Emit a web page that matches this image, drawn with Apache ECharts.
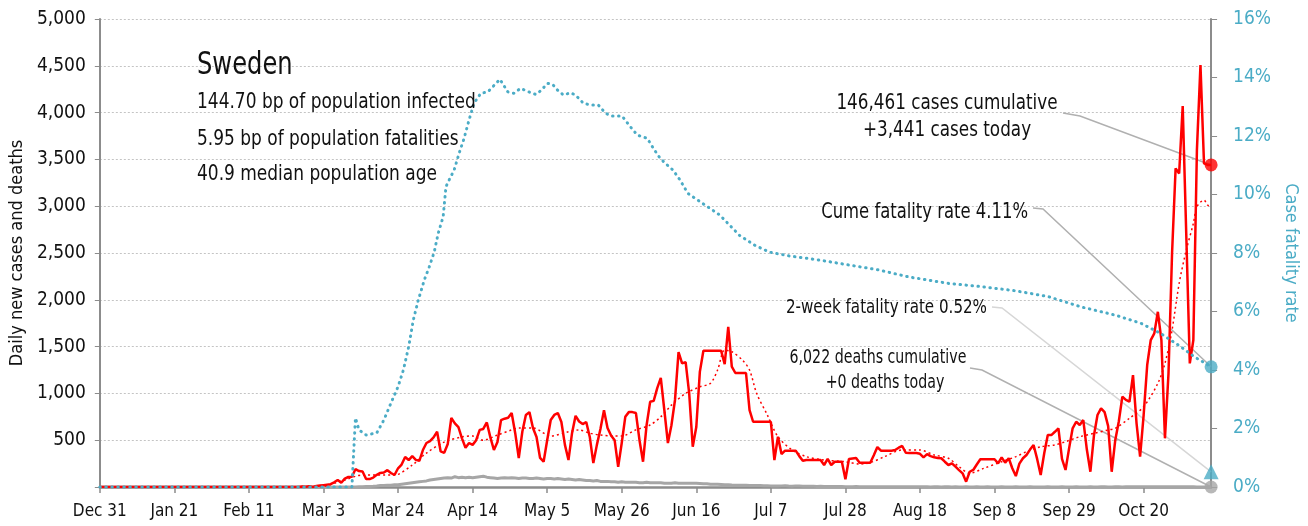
<!DOCTYPE html>
<html><head><meta charset="utf-8">
<script src="https://cdn.jsdelivr.net/npm/echarts@6/dist/echarts.min.js"></script>
<style>html,body{margin:0;padding:0;background:#fff}#c{width:1308px;height:526px}</style>
</head><body><div id="c"></div>
<script>
// ---- DATA ----
const dateLabels = ['Dec 31','Jan 21','Feb 11','Mar 3','Mar 24','Apr 14','May 5','May 26','Jun 16','Jul 7','Jul 28','Aug 18','Sep 8','Sep 29','Oct 20'];
const labelStepDays = 21;
const lastDay = 313; // Nov 8 (day 0 = Dec 31)
const leftTicks = [0, 5000, 500];
const rightTicks = [0, 16, 2];

// daily new cases, one value per day from Dec 31
const dailyCases = [
0,0,0,0,0,0,0,0,0,0,
0,0,0,0,0,0,0,0,0,0,
0,0,0,0,0,0,0,0,0,0,
0,0,0,0,0,0,0,0,0,0,
0,0,0,0,0,0,0,0,0,0,
0,0,0,0,0,0,1,5,3,7,
0,10,15,20,25,30,50,75,45,90,
107,110,190,170,165,85,85,100,130,150,
155,180,150,128,200,240,320,288,330,290,
280,395,470,490,530,590,380,365,460,737,
680,640,520,420,470,450,500,610,620,690,
530,395,480,715,730,740,790,575,310,590,
770,800,630,535,310,270,500,715,770,790,
695,450,288,575,760,700,672,695,535,255,
450,620,820,630,550,500,215,470,750,800,
800,790,500,270,660,910,920,1057,1165,820,
470,660,930,1440,1320,1335,1000,430,640,1230,
1455,1455,1455,1455,1455,1455,1313,1712,1285,1218,
1218,1218,1218,822,697,697,697,697,697,697,
288,537,352,388,388,388,388,330,281,288,
288,288,288,288,235,300,235,270,270,270,
82,300,305,310,260,260,260,260,340,427,
388,388,388,388,395,420,438,366,363,363,
363,355,317,352,330,317,310,307,270,235,
253,217,180,146,57,163,182,240,296,296,
296,296,296,253,317,260,307,200,117,250,
307,342,400,449,300,128,360,555,555,590,
627,300,182,413,627,697,662,715,400,163,
550,769,840,800,650,163,500,700,965,930,
911,1196,680,324,769,1303,1570,1641,1872,1570,
520,1214,2495,3404,3350,4069,2700,1321,1570,3599,
4507,3457,3441,3441
];

// daily deaths, one value per day from Dec 31
const dailyDeaths = [
0,0,0,0,0,0,0,0,0,0,
0,0,0,0,0,0,0,0,0,0,
0,0,0,0,0,0,0,0,0,0,
0,0,0,0,0,0,0,0,0,0,
0,0,0,0,0,0,0,0,0,0,
0,0,0,0,0,0,0,0,0,0,
0,0,0,0,0,0,0,0,0,0,
1,1,1,2,3,5,5,7,10,15,
15,20,20,25,25,30,35,40,45,50,
55,60,65,75,80,85,90,95,100,95,
110,100,105,100,105,100,105,110,115,105,
100,95,90,95,100,95,100,95,90,95,
95,90,90,95,90,85,90,90,85,90,
85,80,85,80,75,80,75,70,70,65,
70,60,60,60,55,55,50,55,50,50,
50,50,45,45,50,45,45,45,45,40,
40,40,45,40,40,40,40,40,40,38,
35,35,30,30,30,28,25,25,22,20,
20,18,18,15,15,15,15,14,14,12,
12,10,12,14,10,8,12,10,8,8,
7,7,6,8,6,5,6,5,5,5,
4,4,4,5,4,3,3,4,3,3,
3,3,3,3,3,2,2,2,3,2,
2,2,2,2,1,2,2,1,2,2,
1,2,1,1,2,1,1,2,1,1,
2,1,1,1,2,1,1,1,2,1,
1,1,2,1,1,1,1,2,1,1,
1,2,1,1,1,2,1,1,1,2,
1,1,2,2,1,1,2,2,1,2,
2,2,3,2,2,3,3,2,3,3,
3,3,4,3,3,3,2,2,2,1,
1,1,0,0
];

// 7-day average of cases: [day, value]
const casesAvg = [
[0,0],[62,0],[66,40],[69,75],[74,128],[83,128],[88,235],[92,363],[97,480],[102,535],[105,545],
[108,500],[112,555],[116,610],[118,630],[122,630],[127,545],[132,590],[135,610],[138,575],
[141,555],[145,545],[147,545],[151,610],[155,662],[158,750],[161,875],[165,1000],[169,1070],
[172,1108],[174,1250],[176,1463],[178,1445],[181,1356],[183,1250],[185,1000],[188,770],
[191,537],[195,395],[199,324],[204,288],[210,270],[214,245],[217,260],[221,324],[226,395],
[231,395],[235,342],[239,307],[242,217],[245,146],[249,200],[254,270],[258,324],[261,377],
[265,430],[269,449],[272,484],[276,537],[280,573],[284,609],[286,627],[290,734],[294,858],
[298,1108],[300,1321],[302,1677],[304,2175],[306,2531],[308,2816],[309,2994],[311,3065],
[312,3012],[313,2994]
];

// cumulative case fatality rate (%): [day, pct]
const fatalityRate = [
[0,0],[71,0],[72,2.36],[73,1.95],[75,1.78],[78,1.85],[80,2.29],[82,2.87],[84,3.43],[85.5,4.0],
[87,4.8],[88.3,5.71],[89.7,6.39],[91.4,7.08],[92.8,7.53],[94.2,8.04],[95.3,8.67],[96.7,9.24],
[97.5,10.27],[98.4,10.5],[99.8,10.84],[101.2,11.41],[102.6,11.92],[104,12.55],[105.4,13.12],
[107.3,13.46],[109.3,13.51],[112.7,13.94],[114.9,13.51],[116.6,13.46],[118.5,13.63],
[120.8,13.51],[122.8,13.42],[124.2,13.55],[126.1,13.8],[127.5,13.77],[128.9,13.57],
[130.6,13.4],[132.6,13.48],[134,13.4],[136.2,13.12],[138.2,13.06],[140.4,13.06],[142.4,12.78],
[144.3,12.68],[147.1,12.68],[149.4,12.32],[151.4,12.03],[154.2,11.92],[155.9,11.58],
[157.8,11.24],[159.8,11.01],[161.4,10.84],[163.4,10.5],[165.6,10.04],[168.4,9.81],
[174.6,9.3],[180.2,8.6],[184.4,8.27],[188.6,8.03],[194.2,7.9],[202.6,7.76],[211,7.59],
[219.4,7.42],[227.9,7.18],[239.1,6.96],[248.3,6.85],[257.8,6.71],[267.1,6.51],[276.3,6.16],
[285.9,5.88],[293.2,5.6],[298.8,5.25],[304.4,4.8],[308.3,4.45],[313,4.11]
];

const twoWeekRate = 0.52;
const cumeRate = 4.11;
const totalCases = 146461;
const totalDeaths = 6022;
const countryName = 'Sweden';
const infoLines = ['144.70 bp of population infected','5.95 bp of population fatalities','40.9 median population age'];

// ---- CHART ----
const FONT = "'Liberation Sans Narrow','DejaVu Sans Condensed','Roboto Condensed',Roboto,sans-serif";
const BLUE = '#4bacc6', RED = '#ff0000', GRAY = '#a6a6a6', AXIS = '#8c8c8c', TXT = '#111';
const tickDays = dateLabels.map((_, i) => i * labelStepDays);
const fmt = n => n.toLocaleString('en-US');

const chart = echarts.init(document.getElementById('c'), null, {renderer: 'canvas'});
const option = {
  animation: false,
  textStyle: {fontFamily: FONT},
  grid: {left: 97, right: 93, top: 19, bottom: 39, containLabel: false},
  xAxis: {
    type: 'value', min: 0, max: lastDay, interval: labelStepDays,
    axisLine: {show: true, lineStyle: {color: AXIS, width: 2.5}},
    axisTick: {show: true, length: 6, lineStyle: {color: AXIS, width: 1.5}, customValues: tickDays},
    axisLabel: {fontFamily: FONT, fontSize: 17, color: TXT, margin: 16, customValues: tickDays,
      formatter: v => dateLabels[Math.round(v / labelStepDays)] || ''},
    splitLine: {show: false}
  },
  yAxis: [{
    type: 'value', min: leftTicks[0], max: leftTicks[1], interval: leftTicks[2], position: 'left',
    name: 'Daily new cases and deaths', nameLocation: 'middle', nameRotate: 90, nameGap: 68,
    nameTextStyle: {fontFamily: FONT, fontSize: 18, color: TXT},
    axisLine: {show: true, lineStyle: {color: AXIS, width: 2}},
    axisTick: {show: true, length: 5, lineStyle: {color: AXIS}},
    axisLabel: {fontFamily: FONT, fontSize: 19, color: TXT, margin: 14, formatter: v => v === 0 ? '' : fmt(v)},
    splitLine: {show: true, lineStyle: {color: '#c4c4c4', type: [2, 2], width: 1}}
  }, {
    type: 'value', min: rightTicks[0], max: rightTicks[1], interval: rightTicks[2], position: 'right',
    name: 'Case fatality rate', nameLocation: 'middle', nameRotate: -90, nameGap: 62,
    nameTextStyle: {fontFamily: FONT, fontSize: 18, color: BLUE},
    axisLine: {show: true, lineStyle: {color: AXIS, width: 2}},
    axisTick: {show: true, length: 6, lineStyle: {color: AXIS}},
    axisLabel: {fontFamily: FONT, fontSize: 19, color: BLUE, margin: 22, formatter: v => v + '%'},
    splitLine: {show: false}
  }],
  series: [
    {name: 'deaths', type: 'line', yAxisIndex: 0, showSymbol: false, symbol: 'none',
     data: dailyDeaths.map((v, i) => [i, v]), lineStyle: {color: GRAY, width: 3}, z: 2},
    {name: 'cases avg', type: 'line', yAxisIndex: 0, showSymbol: false, symbol: 'none', smooth: 0.3,
     data: casesAvg, lineStyle: {color: RED, width: 1.5, type: [2, 3]}, z: 3},
    {name: 'cases', type: 'line', yAxisIndex: 0, showSymbol: false, symbol: 'none',
     data: dailyCases.map((v, i) => [i, v]), lineStyle: {color: RED, width: 2.5}, z: 4},
    {name: 'cfr', type: 'line', yAxisIndex: 1, showSymbol: false, symbol: 'none',
     data: fatalityRate, lineStyle: {color: BLUE, width: 3, type: [0.5, 5.5], cap: 'round'}, z: 5},
    {name: 'end cases', type: 'scatter', yAxisIndex: 0, symbol: 'circle', symbolSize: 13,
     itemStyle: {color: RED}, data: [[lastDay, dailyCases[lastDay]]], z: 10},
    {name: 'end cfr', type: 'scatter', yAxisIndex: 1, symbol: 'circle', symbolSize: 13,
     itemStyle: {color: BLUE}, data: [[lastDay, cumeRate]], z: 10},
    {name: 'end 2wk', type: 'scatter', yAxisIndex: 1, symbol: 'triangle', symbolSize: 15,
     itemStyle: {color: BLUE}, data: [[lastDay, twoWeekRate]], z: 10},
    {name: 'end deaths', type: 'scatter', yAxisIndex: 0, symbol: 'circle', symbolSize: 13,
     itemStyle: {color: GRAY}, data: [[lastDay, dailyDeaths[lastDay]]], z: 10}
  ]
};
chart.setOption(option);

const px = (si, pt) => chart.convertToPixel({seriesIndex: si}, pt);
const pCases = px(4, [lastDay, dailyCases[lastDay]]);
const pCfr = px(5, [lastDay, cumeRate]);
const p2wk = px(6, [lastDay, twoWeekRate]);
const pDeaths = px(7, [lastDay, dailyDeaths[lastDay]]);

// text condensed horizontally to mimic the narrow typeface of the original
const txt = (x, y, text, size, align, sx, color) => ({
  type: 'text', x, y, scaleX: sx || 1, z: 20, silent: true,
  style: {text, fill: color || TXT, font: size + 'px ' + FONT, textAlign: align || 'left', textVerticalAlign: 'middle'}
});
const leader = (pts, color) => ({
  type: 'polyline', z: 1, silent: true, shape: {points: pts},
  style: {stroke: color, lineWidth: 1.5, fill: null}
});

chart.setOption({graphic: [
  txt(197, 66, countryName, 32, 'left', 0.84),
  txt(197, 103, infoLines[0], 21, 'left', 0.9),
  txt(197, 140, infoLines[1], 21, 'left', 0.9),
  txt(197, 175, infoLines[2], 21, 'left', 0.9),
  txt(947, 103, fmt(totalCases) + ' cases cumulative', 22, 'center', 0.85),
  txt(947, 130, '+' + fmt(dailyCases[lastDay]) + ' cases today', 22, 'center', 0.85),
  txt(1028, 212, 'Cume fatality rate ' + cumeRate.toFixed(2) + '%', 22, 'right', 0.83),
  txt(987, 308, '2-week fatality rate ' + twoWeekRate.toFixed(2) + '%', 19, 'right', 0.885),
  txt(878, 358, fmt(totalDeaths) + ' deaths cumulative', 19, 'center', 0.83),
  txt(885, 383, '+' + fmt(dailyDeaths[lastDay]) + ' deaths today', 19, 'center', 0.83),
  leader([[1063, 113], [1080, 116], pCases], '#b0b0b0'),
  leader([[1033, 208], [1043, 209], pCfr], '#b0b0b0'),
  leader([[992, 307], [1002, 308], p2wk], '#d6d6d6'),
  leader([[970, 368], [982, 370], pDeaths], '#b0b0b0')
]});
</script>
</body></html>
